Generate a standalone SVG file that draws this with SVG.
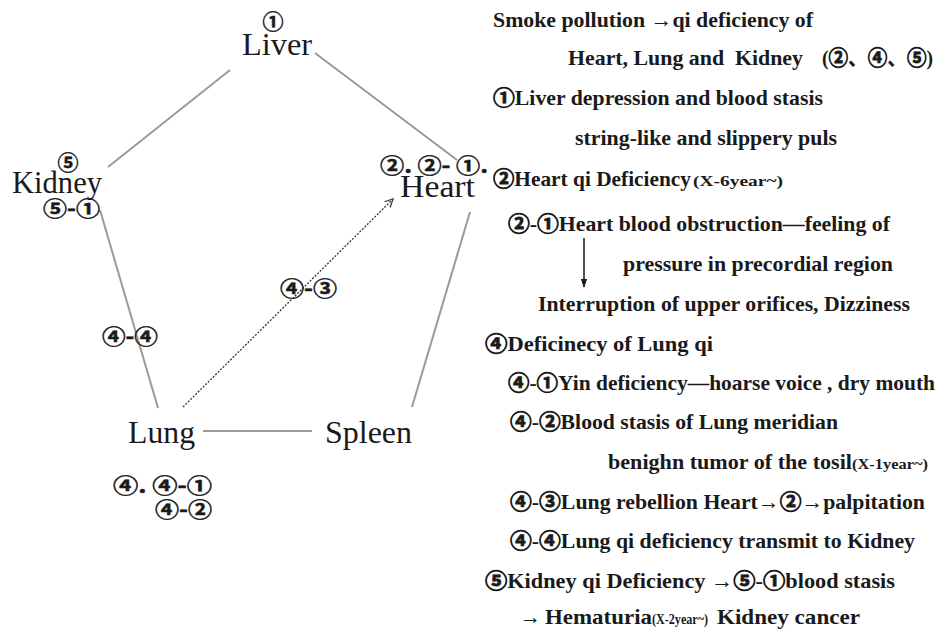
<svg xmlns="http://www.w3.org/2000/svg" width="947" height="630" viewBox="0 0 947 630">
<defs>
<style>
.organ{font-family:"Liberation Serif","Noto Sans CJK JP",serif;font-size:31px;fill:#1a1a1a}
.num{font-family:"Noto Sans CJK JP","DejaVu Sans",sans-serif;font-size:21px;font-weight:bold;fill:#1a1a1a;stroke:#1a1a1a;stroke-width:0.5}
.note{font-family:"Liberation Serif","Noto Sans CJK JP",serif;font-size:21px;font-weight:bold;fill:#1a1a1a}
.cd{stroke:#1a1a1a;stroke-width:0.8}
.small{font-family:"Liberation Serif",serif;font-size:14px;font-weight:bold;fill:#1a1a1a}
.edge{stroke:#9a9a9a;stroke-width:2;fill:none}
.dot{stroke:#333;stroke-width:1.3;stroke-dasharray:2 1.5;fill:none}
</style>
<marker id="open" viewBox="0 0 10 10" refX="9" refY="5" markerWidth="10" markerHeight="10" markerUnits="userSpaceOnUse" orient="auto">
<path d="M1,1 L9,5 L1,9" fill="none" stroke="#333" stroke-width="1.2"/>
</marker>
<marker id="solid" viewBox="0 0 10 10" refX="9" refY="5" markerWidth="9" markerHeight="9" markerUnits="userSpaceOnUse" orient="auto">
<path d="M0,1.5 L10,5 L0,8.5 Z" fill="#1a1a1a"/>
</marker>
</defs>
<rect width="947" height="630" fill="#ffffff"/>
<g id="connectors">
<line class="edge" x1="230" y1="70" x2="108" y2="167"/>
<line class="edge" x1="315" y1="53" x2="457" y2="160"/>
<line class="edge" x1="470" y1="212" x2="412" y2="407"/>
<line class="edge" x1="203" y1="431" x2="312" y2="431"/>
<line class="edge" x1="100" y1="210" x2="158" y2="408"/>
<line class="dot" x1="183" y1="407" x2="393" y2="199" marker-end="url(#open)"/>
<line x1="584" y1="238" x2="584" y2="287" stroke="#1a1a1a" stroke-width="1.5" marker-end="url(#solid)"/>
</g>
<g id="liver">
<text class="num" x="273" y="29" text-anchor="middle">①</text>
<text class="organ" x="242" y="55" textLength="70" lengthAdjust="spacingAndGlyphs">Liver</text>
</g>
<g id="kidney">
<text class="num" x="68" y="170" text-anchor="middle">⑤</text>
<text class="organ" x="12" y="193" textLength="90" lengthAdjust="spacingAndGlyphs">Kidney</text>
<text class="num" x="43" y="216" textLength="57" lengthAdjust="spacingAndGlyphs">⑤-①</text>
</g>
<g id="heart">
<text class="num" x="380" y="173" textLength="108" lengthAdjust="spacingAndGlyphs">②. ②- ①.</text>
<text class="organ" x="400" y="197" textLength="75" lengthAdjust="spacingAndGlyphs">Heart</text>
</g>
<g id="lung">
<text class="organ" x="128" y="443" textLength="67" lengthAdjust="spacingAndGlyphs">Lung</text>
<text class="num" x="113" y="493" textLength="99" lengthAdjust="spacingAndGlyphs">④. ④-①</text>
<text class="num" x="155" y="517" textLength="57" lengthAdjust="spacingAndGlyphs">④-②</text>
</g>
<g id="spleen">
<text class="organ" x="325" y="443" textLength="87" lengthAdjust="spacingAndGlyphs">Spleen</text>
</g>
<g id="edge-labels">
<text class="num" x="102" y="344" textLength="56" lengthAdjust="spacingAndGlyphs">④-④</text>
<text class="num" x="280" y="296" textLength="57" lengthAdjust="spacingAndGlyphs">④-③</text>
</g>
<g id="notes">
<text class="note" x="493" y="27" textLength="320" lengthAdjust="spacingAndGlyphs">Smoke pollution →qi deficiency of</text>
<text class="note" x="568" y="65" textLength="235" lengthAdjust="spacingAndGlyphs">Heart, Lung and &#160;Kidney</text>
<text class="note" x="822" y="65" textLength="111" lengthAdjust="spacingAndGlyphs">(<tspan class="cd">②</tspan>、<tspan class="cd">④</tspan>、<tspan class="cd">⑤</tspan>)</text>
<text class="note" x="493" y="105" textLength="330" lengthAdjust="spacingAndGlyphs"><tspan class="cd">①</tspan>Liver depression and blood stasis</text>
<text class="note" x="575" y="145" textLength="262" lengthAdjust="spacingAndGlyphs">string-like and slippery puls</text>
<text class="note" x="493" y="186" textLength="198" lengthAdjust="spacingAndGlyphs"><tspan class="cd">②</tspan>Heart qi Deficiency</text>
<text class="small" x="693" y="186" textLength="90" lengthAdjust="spacingAndGlyphs">(X-6year~)</text>
<text class="note" x="508" y="231" textLength="382" lengthAdjust="spacingAndGlyphs"><tspan class="cd">②</tspan>-<tspan class="cd">①</tspan>Heart blood obstruction—feeling of</text>
<text class="note" x="623" y="271" textLength="270" lengthAdjust="spacingAndGlyphs">pressure in precordial region</text>
<text class="note" x="538" y="311" textLength="372" lengthAdjust="spacingAndGlyphs">Interruption of upper orifices, Dizziness</text>
<text class="note" x="485" y="351" textLength="228" lengthAdjust="spacingAndGlyphs"><tspan class="cd">④</tspan>Deficinecy of Lung qi</text>
<text class="note" x="508" y="390" textLength="427" lengthAdjust="spacingAndGlyphs"><tspan class="cd">④</tspan>-<tspan class="cd">①</tspan>Yin deficiency—hoarse voice , dry mouth</text>
<text class="note" x="510" y="429" textLength="328" lengthAdjust="spacingAndGlyphs"><tspan class="cd">④</tspan>-<tspan class="cd">②</tspan>Blood stasis of Lung meridian</text>
<text class="note" x="608" y="469" textLength="244" lengthAdjust="spacingAndGlyphs">benighn tumor of the tosil</text>
<text class="small" x="852" y="469" textLength="76" lengthAdjust="spacingAndGlyphs">(X-1year~)</text>
<text class="note" x="510" y="509" textLength="415" lengthAdjust="spacingAndGlyphs"><tspan class="cd">④</tspan>-<tspan class="cd">③</tspan>Lung rebellion Heart→<tspan class="cd">②</tspan>→palpitation</text>
<text class="note" x="510" y="548" textLength="405" lengthAdjust="spacingAndGlyphs"><tspan class="cd">④</tspan>-<tspan class="cd">④</tspan>Lung qi deficiency transmit to Kidney</text>
<text class="note" x="485" y="588" textLength="410" lengthAdjust="spacingAndGlyphs"><tspan class="cd">⑤</tspan>Kidney qi Deficiency →<tspan class="cd">⑤</tspan>-<tspan class="cd">①</tspan>blood stasis</text>
<text class="note" x="520" y="624">→</text>
<text class="note" x="545" y="624" textLength="107" lengthAdjust="spacingAndGlyphs">Hematuria</text>
<text class="small" x="652" y="624" textLength="56" lengthAdjust="spacingAndGlyphs">(X-2year~)</text>
<text class="note" x="717" y="624" textLength="143" lengthAdjust="spacingAndGlyphs">Kidney cancer</text>
</g>
</svg>
